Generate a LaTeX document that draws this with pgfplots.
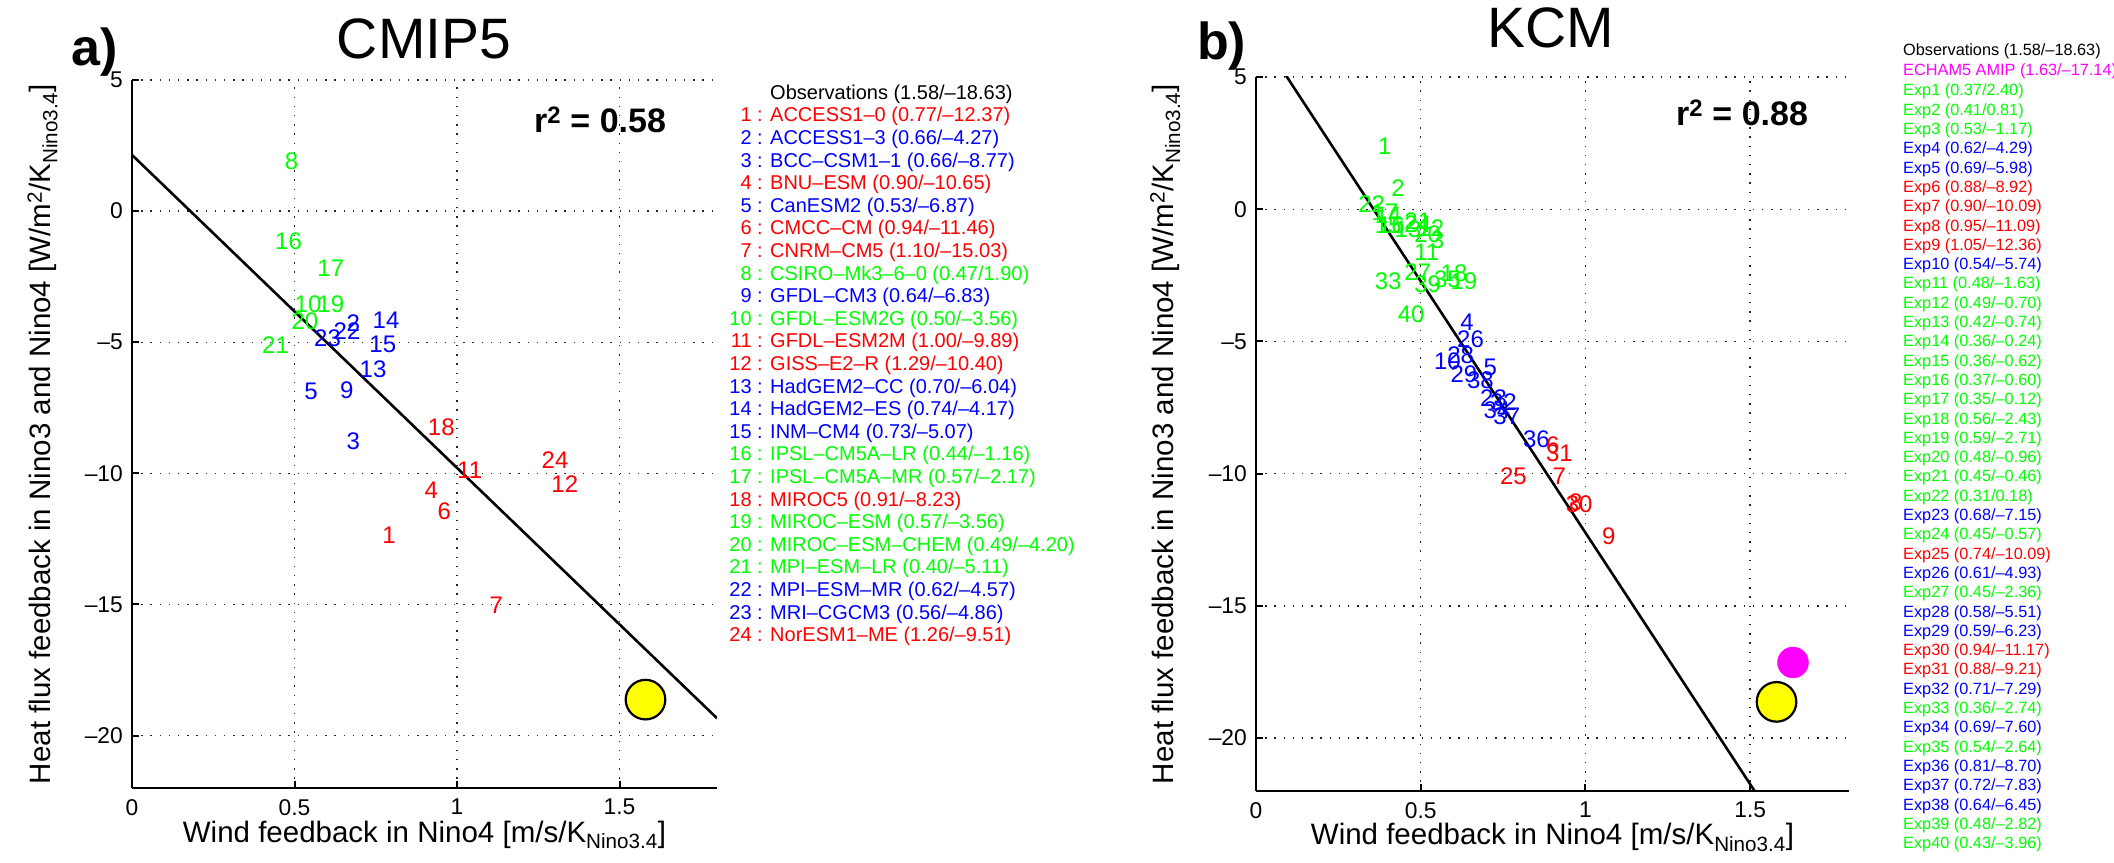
\documentclass[border=0pt]{standalone}
\usepackage{fontspec}
\setmainfont{Liberation Sans}
\usepackage{pgfplots}
\pgfplotsset{compat=1.18}
\usepackage{pgfplotstable}

\definecolor{mred}{rgb}{1,0,0}
\definecolor{mblue}{rgb}{0,0,1}
\definecolor{mgreen}{rgb}{0,1,0}
\definecolor{mmag}{rgb}{1,0,1}
\definecolor{myellow}{rgb}{1,1,0}

% CMIP5 models, grouped by colour
\pgfplotstableread{
x y lab
0.77 -12.37 1
0.90 -10.65 4
0.94 -11.46 6
1.10 -15.03 7
1.00 -9.89 11
1.29 -10.40 12
0.91 -8.23 18
1.26 -9.51 24
}\cmipred
\pgfplotstableread{
x y lab
0.66 -4.27 2
0.66 -8.77 3
0.53 -6.87 5
0.64 -6.83 9
0.70 -6.04 13
0.74 -4.17 14
0.73 -5.07 15
0.62 -4.57 22
0.56 -4.86 23
}\cmipblue
\pgfplotstableread{
x y lab
0.47 1.90 8
0.50 -3.56 10
0.44 -1.16 16
0.57 -2.17 17
0.57 -3.56 19
0.49 -4.20 20
0.40 -5.11 21
}\cmipgreen

% KCM experiments
\pgfplotstableread{
x y lab
0.88 -8.92 6
0.90 -10.09 7
0.95 -11.09 8
1.05 -12.36 9
0.74 -10.09 25
0.94 -11.17 30
0.88 -9.21 31
}\kcmred
\pgfplotstableread{
x y lab
0.62 -4.29 4
0.69 -5.98 5
0.54 -5.74 10
0.68 -7.15 23
0.61 -4.93 26
0.58 -5.51 28
0.59 -6.23 29
0.71 -7.29 32
0.69 -7.60 34
0.81 -8.70 36
0.72 -7.83 37
0.64 -6.45 38
}\kcmblue
\pgfplotstableread{
x y lab
0.37 2.40 1
0.41 0.81 2
0.53 -1.17 3
0.48 -1.63 11
0.49 -0.70 12
0.42 -0.74 13
0.36 -0.24 14
0.36 -0.62 15
0.37 -0.60 16
0.35 -0.12 17
0.56 -2.43 18
0.59 -2.71 19
0.48 -0.96 20
0.45 -0.46 21
0.31 0.18 22
0.45 -0.57 24
0.45 -2.36 27
0.36 -2.74 33
0.54 -2.64 35
0.48 -2.82 39
0.43 -3.96 40
}\kcmgreen

\pgfplotsset{
  feedback/.style={
    scale only axis,
    xmin=0, xmax=1.8, ymin=-22, ymax=5,
    axis x line=bottom, axis y line=left,
    axis line style={-, line width=2pt},
    xtick={0,0.5,1,1.5}, xticklabels={0,0.5,1,1.5},
    ytick={-20,-15,-10,-5,0,5}, yticklabels={--20,--15,--10,--5,0,5},
    tick align=inside, major tick length=7pt,
    tick style={line width=2pt, black},
    grid=major,
    major grid style={black!85, line width=1.4pt, dash pattern=on 1.4pt off 7.8pt},
    tick label style={font=\fontsize{22.8}{24}\selectfont},
    xticklabel style={anchor=north, inner sep=0pt, yshift=-11pt},
    yticklabel style={anchor=east, inner sep=0pt, xshift=-9pt},
    label style={font=\fontsize{29.5}{32}\selectfont},
    xlabel={Wind feedback in Nino4 [m/s/K\textsubscript{Nino3.4}]},
    ylabel={Heat flux feedback in Nino3 and Nino4 [W/m\textsuperscript{2}/K\textsubscript{Nino3.4}]},
    xlabel style={at={(axis description cs:0.5,0)}, anchor=base, yshift=-54pt},
    ylabel style={at={(axis description cs:-0.153,0.5)}, anchor=center},
  },
  lbl/.style={draw=none, mark=none, nodes near coords, point meta=explicit symbolic,
    nodes near coords align=horizontal,
    every node near coord/.append style={anchor=west, inner sep=0pt, text=#1,
      font=\fontsize{24}{24}\selectfont}},
}

\newcommand{\la}[4]{%
  \pgfmathsetmacro{\yy}{740-(#1-1)*22.6}%
  \node[anchor=base east, text=#2, inner sep=0pt] at (763pt,\yy pt) {#3 :};
  \node[anchor=base west, text=#2, inner sep=0pt] at (770pt,\yy pt) {#4};}
\newcommand{\lb}[3]{%
  \pgfmathsetmacro{\yy}{766-(#1-1)*19.3}%
  \node[anchor=base west, text=#2, inner sep=0pt] at (1903pt,\yy pt) {#3};}

\begin{document}
\begin{tikzpicture}
% ---------- a) CMIP5
\begin{axis}[feedback, at={(132pt,74pt)}, anchor=south west, width=585pt, height=708pt]
  \addplot[black, line width=2.6pt] coordinates {(0,2.142) (1.8,-19.34)};
  \addplot[lbl=mred] table[meta=lab] {\cmipred};
  \addplot[lbl=mblue] table[meta=lab] {\cmipblue};
  \addplot[lbl=mgreen] table[meta=lab] {\cmipgreen};
  \addplot[only marks, mark=*, mark size=19.8pt,
    mark options={fill=myellow, draw=black, line width=2.2pt}] coordinates {(1.58,-18.63)};
\end{axis}
% ---------- b) KCM
\begin{axis}[feedback, at={(1256pt,71pt)}, anchor=south west, width=593pt, height=714pt]
  \addplot[black, line width=2.6pt] coordinates {(0,6.787) (1.8,-27.45)};
  \addplot[lbl=mgreen] table[meta=lab] {\kcmgreen};
  \addplot[lbl=mblue] table[meta=lab] {\kcmblue};
  \addplot[lbl=mred] table[meta=lab] {\kcmred};
  \addplot[only marks, mark=*, mark size=15.5pt,
    mark options={fill=mmag, draw=mmag}] coordinates {(1.63,-17.14)};
  \addplot[only marks, mark=*, mark size=19.8pt,
    mark options={fill=myellow, draw=black, line width=2.2pt}] coordinates {(1.58,-18.63)};
\end{axis}

% titles and panel letters
\node[anchor=base, font=\fontsize{57}{60}\selectfont] at (424pt,803pt) {CMIP5};
\node[anchor=base, font=\fontsize{57}{60}\selectfont] at (1551pt,814pt) {KCM};
\node[anchor=base west, inner sep=0pt, font=\fontsize{52}{56}\selectfont\bfseries] at (71pt,796pt) {a)};
\node[anchor=base west, inner sep=0pt, font=\fontsize{52}{56}\selectfont\bfseries] at (1197pt,802pt) {b)};
\node[font=\fontsize{34}{38}\selectfont\bfseries] at (600pt,742pt) {r\textsuperscript{2} = 0.58};
\node[font=\fontsize{34}{38}\selectfont\bfseries] at (1742pt,749pt) {r\textsuperscript{2} = 0.88};

% legend list a
\begin{scope}[font=\fontsize{20}{22}\selectfont]
\node[anchor=base west, inner sep=0pt] at (770pt,762.6pt) {Observations (1.58/--18.63)};
\la{1}{mred}{1}{ACCESS1--0 (0.77/--12.37)}
\la{2}{mblue}{2}{ACCESS1--3 (0.66/--4.27)}
\la{3}{mblue}{3}{BCC--CSM1--1 (0.66/--8.77)}
\la{4}{mred}{4}{BNU--ESM (0.90/--10.65)}
\la{5}{mblue}{5}{CanESM2 (0.53/--6.87)}
\la{6}{mred}{6}{CMCC--CM (0.94/--11.46)}
\la{7}{mred}{7}{CNRM--CM5 (1.10/--15.03)}
\la{8}{mgreen}{8}{CSIRO--Mk3--6--0 (0.47/1.90)}
\la{9}{mblue}{9}{GFDL--CM3 (0.64/--6.83)}
\la{10}{mgreen}{10}{GFDL--ESM2G (0.50/--3.56)}
\la{11}{mred}{11}{GFDL--ESM2M (1.00/--9.89)}
\la{12}{mred}{12}{GISS--E2--R (1.29/--10.40)}
\la{13}{mblue}{13}{HadGEM2--CC (0.70/--6.04)}
\la{14}{mblue}{14}{HadGEM2--ES (0.74/--4.17)}
\la{15}{mblue}{15}{INM--CM4 (0.73/--5.07)}
\la{16}{mgreen}{16}{IPSL--CM5A--LR (0.44/--1.16)}
\la{17}{mgreen}{17}{IPSL--CM5A--MR (0.57/--2.17)}
\la{18}{mred}{18}{MIROC5 (0.91/--8.23)}
\la{19}{mgreen}{19}{MIROC--ESM (0.57/--3.56)}
\la{20}{mgreen}{20}{MIROC--ESM--CHEM (0.49/--4.20)}
\la{21}{mgreen}{21}{MPI--ESM--LR (0.40/--5.11)}
\la{22}{mblue}{22}{MPI--ESM--MR (0.62/--4.57)}
\la{23}{mblue}{23}{MRI--CGCM3 (0.56/--4.86)}
\la{24}{mred}{24}{NorESM1--ME (1.26/--9.51)}
\end{scope}

% legend list b
\begin{scope}[font=\fontsize{16.3}{18}\selectfont]
\node[anchor=base west, inner sep=0pt] at (1903pt,806pt) {Observations (1.58/--18.63)};
\node[anchor=base west, inner sep=0pt, text=mmag] at (1903pt,786pt) {ECHAM5 AMIP (1.63/--17.14)};
\lb{1}{mgreen}{Exp1 (0.37/2.40)}
\lb{2}{mgreen}{Exp2 (0.41/0.81)}
\lb{3}{mgreen}{Exp3 (0.53/--1.17)}
\lb{4}{mblue}{Exp4 (0.62/--4.29)}
\lb{5}{mblue}{Exp5 (0.69/--5.98)}
\lb{6}{mred}{Exp6 (0.88/--8.92)}
\lb{7}{mred}{Exp7 (0.90/--10.09)}
\lb{8}{mred}{Exp8 (0.95/--11.09)}
\lb{9}{mred}{Exp9 (1.05/--12.36)}
\lb{10}{mblue}{Exp10 (0.54/--5.74)}
\lb{11}{mgreen}{Exp11 (0.48/--1.63)}
\lb{12}{mgreen}{Exp12 (0.49/--0.70)}
\lb{13}{mgreen}{Exp13 (0.42/--0.74)}
\lb{14}{mgreen}{Exp14 (0.36/--0.24)}
\lb{15}{mgreen}{Exp15 (0.36/--0.62)}
\lb{16}{mgreen}{Exp16 (0.37/--0.60)}
\lb{17}{mgreen}{Exp17 (0.35/--0.12)}
\lb{18}{mgreen}{Exp18 (0.56/--2.43)}
\lb{19}{mgreen}{Exp19 (0.59/--2.71)}
\lb{20}{mgreen}{Exp20 (0.48/--0.96)}
\lb{21}{mgreen}{Exp21 (0.45/--0.46)}
\lb{22}{mgreen}{Exp22 (0.31/0.18)}
\lb{23}{mblue}{Exp23 (0.68/--7.15)}
\lb{24}{mgreen}{Exp24 (0.45/--0.57)}
\lb{25}{mred}{Exp25 (0.74/--10.09)}
\lb{26}{mblue}{Exp26 (0.61/--4.93)}
\lb{27}{mgreen}{Exp27 (0.45/--2.36)}
\lb{28}{mblue}{Exp28 (0.58/--5.51)}
\lb{29}{mblue}{Exp29 (0.59/--6.23)}
\lb{30}{mred}{Exp30 (0.94/--11.17)}
\lb{31}{mred}{Exp31 (0.88/--9.21)}
\lb{32}{mblue}{Exp32 (0.71/--7.29)}
\lb{33}{mgreen}{Exp33 (0.36/--2.74)}
\lb{34}{mblue}{Exp34 (0.69/--7.60)}
\lb{35}{mgreen}{Exp35 (0.54/--2.64)}
\lb{36}{mblue}{Exp36 (0.81/--8.70)}
\lb{37}{mblue}{Exp37 (0.72/--7.83)}
\lb{38}{mblue}{Exp38 (0.64/--6.45)}
\lb{39}{mgreen}{Exp39 (0.48/--2.82)}
\lb{40}{mgreen}{Exp40 (0.43/--3.96)}
\end{scope}

\pgfresetboundingbox
\useasboundingbox (0pt,0pt) rectangle (2114pt,862pt);
\end{tikzpicture}
\end{document}
